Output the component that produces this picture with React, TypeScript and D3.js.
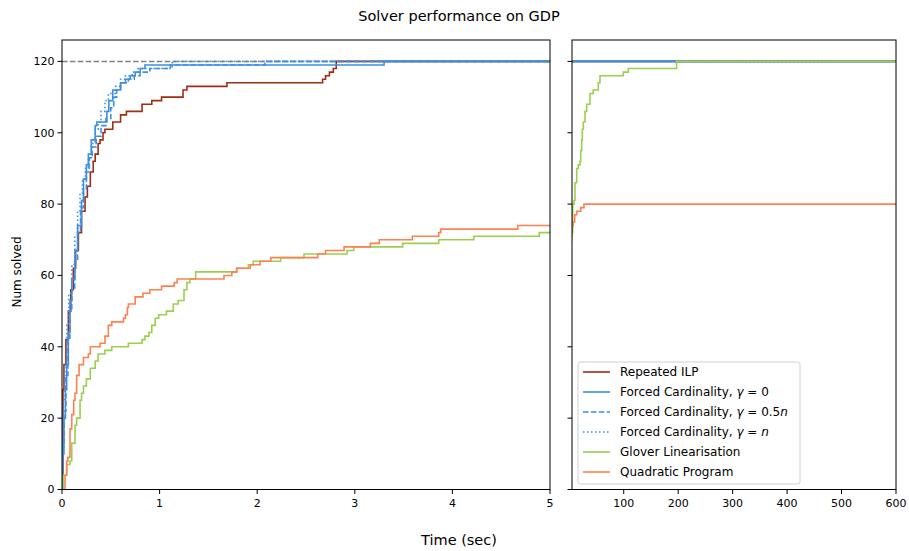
import React from 'react';
import * as d3 from 'd3';

// [time (sec), number solved] step points
const repeatedIlp = [
  [0.005, 0], [0.01, 28], [0.02, 35], [0.04, 42], [0.065, 50], [0.09, 56], [0.116, 62], [0.14, 67],
  [0.168, 72], [0.2, 78], [0.236, 82], [0.26, 85], [0.29, 89], [0.32, 92], [0.34, 94], [0.37, 97],
  [0.39, 98], [0.42, 100], [0.44, 101], [0.52, 103], [0.6, 105], [0.66, 106], [0.82, 108], [0.92, 109],
  [1.02, 110], [1.24, 112], [1.28, 113], [1.69, 114], [2.67, 115], [2.7, 116], [2.74, 117], [2.78, 118],
  [2.81, 120], [600, 120],
];

const forcedZero = [
  [0.002, 0], [0.005, 10], [0.02, 20], [0.035, 28], [0.048, 35], [0.065, 44], [0.082, 53], [0.1, 59],
  [0.133, 67], [0.16, 74], [0.2, 81], [0.22, 87], [0.25, 91], [0.27, 94], [0.3, 98], [0.34, 102],
  [0.356, 103], [0.46, 106], [0.48, 109], [0.52, 112], [0.6, 114], [0.65, 115], [0.7, 116], [0.75, 117],
  [0.8, 118], [0.85, 119], [3.3, 120], [600, 120],
];

const forcedHalf = [
  [0.002, 0], [0.006, 12], [0.02, 22], [0.04, 32], [0.06, 42], [0.08, 50], [0.1, 56], [0.13, 64],
  [0.16, 72], [0.19, 79], [0.22, 84], [0.25, 89], [0.28, 93], [0.31, 96], [0.35, 99], [0.4, 102],
  [0.45, 104], [0.5, 107], [0.53, 110], [0.56, 112], [0.6, 114], [0.68, 115], [0.74, 116], [0.8, 117],
  [0.9, 118], [1.11, 119], [2.08, 120], [600, 120],
];

const forcedFull = [
  [0.002, 0], [0.005, 14], [0.015, 25], [0.03, 35], [0.05, 46], [0.07, 55], [0.1, 63], [0.13, 71],
  [0.16, 78], [0.185, 83], [0.21, 87], [0.24, 90], [0.27, 93], [0.3, 97], [0.34, 101], [0.37, 103],
  [0.4, 106], [0.44, 109], [0.475, 111], [0.55, 113], [0.6, 115], [0.65, 116], [0.72, 117], [0.78, 118],
  [1.13, 120], [600, 120],
];

const glover = [
  [0.01, 0], [0.014, 4], [0.048, 7], [0.082, 8], [0.1, 13], [0.133, 18], [0.15, 20], [0.185, 25],
  [0.2, 27], [0.22, 29], [0.25, 31], [0.29, 34], [0.34, 36], [0.37, 38], [0.44, 39], [0.51, 40],
  [0.68, 41], [0.82, 42], [0.85, 43], [0.89, 44], [0.92, 46], [0.955, 48], [0.99, 49], [1.07, 50],
  [1.14, 52], [1.19, 53], [1.25, 56], [1.28, 58], [1.31, 59], [1.37, 61], [1.79, 62], [1.91, 63],
  [1.96, 64], [2.24, 65], [2.48, 66], [2.92, 67], [2.99, 68], [3.49, 69], [3.86, 70], [4.22, 71],
  [4.89, 72], [6.3, 80], [8.7, 81], [10.5, 86], [13.6, 90], [16.6, 91], [19.7, 92], [21, 95],
  [22.8, 98], [24, 101], [25.8, 103], [28.9, 106], [32, 108], [38, 111], [44, 112], [53.3, 114],
  [56.4, 116], [99.2, 117], [108.4, 118], [197, 120], [600, 120],
];

const quadratic = [
  [0.02, 0], [0.031, 4], [0.048, 8], [0.06, 9], [0.082, 17], [0.1, 21], [0.12, 25], [0.133, 27],
  [0.15, 32], [0.175, 35], [0.22, 37], [0.27, 38], [0.29, 40], [0.39, 41], [0.44, 43], [0.475, 46],
  [0.51, 47], [0.63, 48], [0.65, 49], [0.67, 51], [0.68, 52], [0.75, 54], [0.83, 55], [0.9, 56],
  [1.02, 57], [1.15, 58], [1.18, 59], [1.66, 60], [1.74, 61], [1.79, 62], [1.93, 63], [2.03, 64],
  [2.14, 65], [2.62, 66], [2.7, 67], [2.89, 68], [3.16, 69], [3.25, 70], [3.59, 71], [3.86, 72],
  [3.88, 73], [4.67, 74], [7, 75], [10, 77], [13.6, 78], [21, 79], [27, 80], [600, 80],
];

const series = [
  { name: 'Repeated ILP', data: repeatedIlp, color: '#a02c12', dash: null },
  { name: 'Forced Cardinality, ', gamma: '0', data: forcedZero, color: '#3d8fe3', dash: null },
  { name: 'Forced Cardinality, ', gamma: '0.5n', data: forcedHalf, color: '#3d8fe3', dash: '5.5,2.4' },
  { name: 'Forced Cardinality, ', gamma: 'n', data: forcedFull, color: '#3d8fe3', dash: '1.5,2.5' },
  { name: 'Glover Linearisation', data: glover, color: '#9ccf4e', dash: null },
  { name: 'Quadratic Program', data: quadratic, color: '#ff8050', dash: null },
];

const leftTicks = [0, 1, 2, 3, 4, 5];
const rightTicks = [100, 200, 300, 400, 500, 600];
const yTicks = [0, 20, 40, 60, 80, 100, 120];
const totalInstances = 120;

const font = 'DejaVu Sans, sans-serif';

// gamma labels: numbers upright, n in italics
function Gamma({ value }) {
  const num = value.replace('n', '');
  const hasN = value.endsWith('n');
  return (
    <>
      <tspan fontStyle="italic">γ</tspan>
      <tspan>{' = ' + num}</tspan>
      {hasN && <tspan fontStyle="italic">n</tspan>}
    </>
  );
}

export default function App() {
  const top = 40;
  const bottom = 489.5;
  const y = d3.scaleLinear().domain([0, 126]).range([bottom, top]);
  const xl = d3.scaleLinear().domain([0, 5]).range([62, 550]);
  const xr = d3.scaleLinear().domain([5, 600]).range([572, 896]);

  const panels = [
    { id: 'left', x: xl, ticks: leftTicks, yLabels: true },
    { id: 'right', x: xr, ticks: rightTicks, yLabels: false },
  ];

  const lineFor = (x) =>
    d3.line().x((d) => x(d[0])).y((d) => y(d[1])).curve(d3.curveStepAfter);

  const legendX = 578;
  const legendY = 362;
  const rowH = 20;

  return (
    <svg width={909} height={551} style={{ position: 'absolute', left: 0, top: 0, background: '#fff' }}
      fontFamily={font}>
      <defs>
        {panels.map((p) => (
          <clipPath id={'clip-' + p.id} key={p.id}>
            <rect x={p.x.range()[0]} y={top} width={p.x.range()[1] - p.x.range()[0]} height={bottom - top} />
          </clipPath>
        ))}
      </defs>
      <text x={459} y={21} textAnchor="middle" fontSize={14.5}>Solver performance on GDP</text>
      <text x={459} y={545} textAnchor="middle" fontSize={14.5}>Time (sec)</text>
      <text transform={`translate(21,272) rotate(-90)`} textAnchor="middle" fontSize={12}>Num solved</text>

      {panels.map((p) => {
        const [x0, x1] = p.x.range();
        const line = lineFor(p.x);
        return (
          <g key={p.id}>
            <g clipPath={`url(#clip-${p.id})`}>
              <line x1={x0} x2={x1} y1={y(totalInstances)} y2={y(totalInstances)}
                stroke="#808080" strokeWidth={1.5} strokeDasharray="5.5,2.4" />
              {series.map((s, i) => (
                <path key={i} d={line(s.data)} fill="none" stroke={s.color} strokeWidth={1.6}
                  strokeDasharray={s.dash || undefined} />
              ))}
            </g>
            <rect x={x0} y={top} width={x1 - x0} height={bottom - top} fill="none" stroke="#000" strokeWidth={1} />
            {yTicks.map((t) => (
              <g key={t}>
                <line x1={x0 - 4.5} x2={x0} y1={y(t)} y2={y(t)} stroke="#000" strokeWidth={1} />
                {p.yLabels && (
                  <text x={x0 - 7.5} y={y(t)} dy="0.35em" textAnchor="end" fontSize={11}>{t}</text>
                )}
              </g>
            ))}
            {p.ticks.map((t) => (
              <g key={t}>
                <line x1={p.x(t)} x2={p.x(t)} y1={bottom} y2={bottom + 4.5} stroke="#000" strokeWidth={1} />
                <text x={p.x(t)} y={bottom + 17} textAnchor="middle" fontSize={11}>{t}</text>
              </g>
            ))}
          </g>
        );
      })}

      <g>
        <rect x={legendX} y={legendY} width={222} height={122} rx={2.5} fill="#fff" fillOpacity={0.8}
          stroke="#d0d0d0" strokeWidth={1} />
        {series.map((s, i) => {
          const cy = legendY + 10 + i * rowH;
          return (
            <g key={i}>
              <line x1={legendX + 5} x2={legendX + 32} y1={cy} y2={cy} stroke={s.color} strokeWidth={1.6}
                strokeDasharray={s.dash || undefined} />
              <text x={legendX + 42} y={cy} dy="0.35em" fontSize={12}>
                {s.name}
                {s.gamma !== undefined && <Gamma value={s.gamma} />}
              </text>
            </g>
          );
        })}
      </g>
    </svg>
  );
}
